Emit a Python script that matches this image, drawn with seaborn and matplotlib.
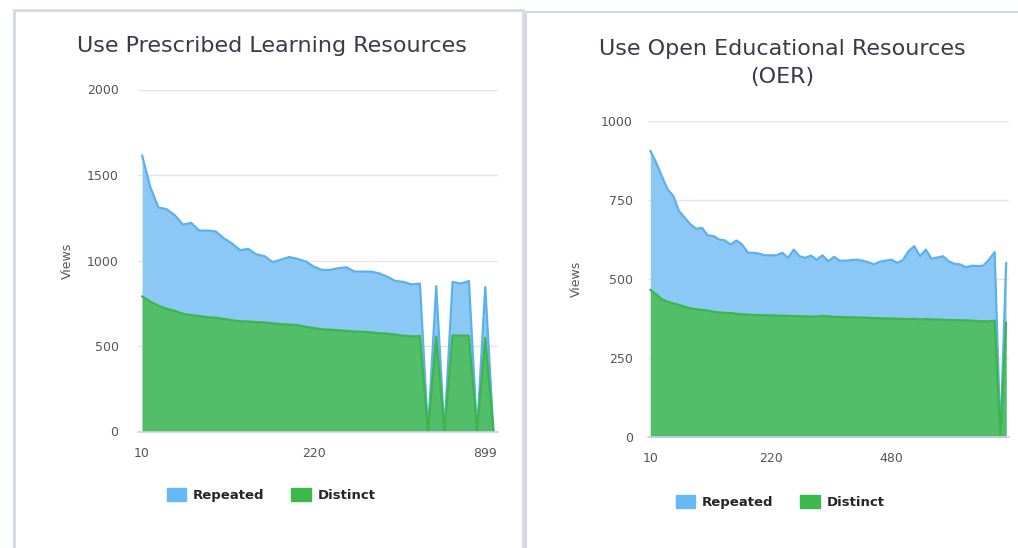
import numpy as np
import matplotlib
matplotlib.use("Agg")
import matplotlib.pyplot as plt
from matplotlib.patches import Patch, Rectangle
import seaborn as sns

# left chart: Use Prescribed Learning Resources
pres_repeated = [1615, 1430, 1310, 1300, 1265, 1210, 1220, 1175, 1175, 1170,
                 1130, 1100, 1060, 1068, 1035, 1025, 990, 1005, 1020, 1010,
                 995, 965, 945, 945, 955, 960, 935, 935, 935, 925,
                 905, 880, 875, 860, 865, 0, 850, 0, 875, 865,
                 880, 0, 845, 0]
pres_distinct = [790, 760, 735, 718, 705, 688, 680, 675, 668, 665,
                 658, 650, 645, 643, 640, 638, 632, 628, 625, 622,
                 612, 605, 598, 595, 592, 588, 585, 583, 580, 575,
                 572, 566, 560, 556, 558, 0, 555, 0, 562, 560,
                 560, 0, 548, 0]
pres_ticks = [0, 21, 42]
pres_ticklabels = ["10", "220", "899"]

# right chart: Use Open Educational Resources (OER)
oer_repeated = [906, 869, 826, 784, 763, 715, 694, 673, 659, 662,
                638, 636, 625, 622, 609, 622, 609, 583, 583, 580,
                575, 575, 575, 583, 567, 593, 572, 567, 574, 561,
                575, 556, 570, 558, 558, 560, 561, 558, 553, 546,
                555, 558, 561, 551, 560, 588, 604, 572, 593, 564,
                568, 572, 556, 548, 546, 537, 542, 541, 542, 561,
                585, 0, 551]
oer_distinct = [466, 452, 436, 428, 423, 418, 412, 407, 404, 402,
                400, 396, 394, 393, 392, 390, 388, 387, 386, 386,
                385, 385, 384, 384, 383, 383, 382, 382, 381, 381,
                383, 382, 380, 380, 379, 379, 378, 378, 377, 376,
                376, 375, 375, 374, 374, 373, 374, 372, 373, 372,
                372, 371, 370, 370, 369, 369, 368, 367, 366, 366,
                368, 0, 362]
oer_ticks = [0, 21, 42]
oer_ticklabels = ["10", "220", "480"]

series_names = ["Repeated", "Distinct"]

BLUE_FILL, BLUE_LINE, BLUE_KEY = "#8cc8f5", "#5cb0ec", "#66b9f4"
GREEN_FILL, GREEN_LINE, GREEN_KEY = "#52be6a", "#3cb54a", "#3db84a"
GRID = "#e4e4e4"
AXIS = "#c8d4e0"
TXT = "#555555"

sns.set_style("white")
W, H = 1018, 548
fig = plt.figure(figsize=(W / 100, H / 100), dpi=100)


def px_axes(x0, y0, x1, y1):
    return fig.add_axes([x0 / W, 1 - y1 / H, (x1 - x0) / W, (y1 - y0) / H])


def draw_panel(ax, repeated, distinct, ymax, yticks, ticks, ticklabels, xlim, ypad, lpad):
    idx = np.arange(len(repeated))
    ax.fill_between(idx, repeated, color=BLUE_FILL, lw=0, zorder=2)
    sns.lineplot(x=idx, y=repeated, ax=ax, color=BLUE_LINE, linewidth=1.6, zorder=3)
    ax.fill_between(idx, distinct, color=GREEN_FILL, lw=0, zorder=4)
    sns.lineplot(x=idx, y=distinct, ax=ax, color=GREEN_LINE, linewidth=1.6, zorder=5)
    ax.set_xlim(*xlim)
    ax.set_ylim(0, ymax)
    ax.set_yticks(yticks)
    ax.set_yticklabels([str(v) for v in yticks], fontsize=9, color=TXT)
    ax.set_xticks(ticks)
    ax.set_xticklabels(ticklabels, fontsize=9, color=TXT)
    ax.grid(axis="y", color=GRID, linewidth=1, zorder=0)
    ax.set_axisbelow(True)
    for s in ["top", "right", "left"]:
        ax.spines[s].set_visible(False)
    ax.spines["bottom"].set_color(AXIS)
    ax.spines["bottom"].set_linewidth(1.2)
    ax.spines["bottom"].set_zorder(6)
    ax.tick_params(axis="y", length=0, pad=ypad)
    ax.tick_params(axis="x", length=5, width=1, color=AXIS, pad=6)
    ax.set_ylabel("Views", fontsize=9, color=TXT, labelpad=lpad)
    ax.set_xlabel("")


ax1 = px_axes(138, 89.5, 497.5, 431.5)
draw_panel(ax1, pres_repeated, pres_distinct, 2000, [0, 500, 1000, 1500, 2000],
           pres_ticks, pres_ticklabels, (-0.5, 43.5), 14, 9)

ax2 = px_axes(648, 121, 1009, 437)
draw_panel(ax2, oer_repeated, oer_distinct, 1000, [0, 250, 500, 750, 1000],
           oer_ticks, oer_ticklabels, (-0.4, 62.5), 11, 13)

# titles
fig.text(272 / W, 1 - 46 / H, "Use Prescribed Learning Resources",
         ha="center", va="center", fontsize=16, color="#3a3a4a")
fig.text(782 / W, 1 - 49 / H, "Use Open Educational Resources",
         ha="center", va="center", fontsize=16, color="#3a3a4a")
fig.text(782 / W, 1 - 77 / H, "(OER)",
         ha="center", va="center", fontsize=16, color="#3a3a4a")

# legends
handles = [Patch(facecolor=BLUE_KEY, edgecolor=BLUE_KEY),
           Patch(facecolor=GREEN_KEY, edgecolor=GREEN_KEY)]
for cx, cy in [(271, 495), (780, 502)]:
    fig.legend(handles, series_names, loc="center", bbox_to_anchor=(cx / W, 1 - cy / H),
               ncol=2, frameon=False, handlelength=1.5, handleheight=1.1,
               columnspacing=2.0, handletextpad=0.5,
               prop={"weight": "bold", "size": 9.5})

# panel frames
fig.add_artist(Rectangle((14 / W, -0.05), (523 - 14) / W, 1.05 - 10 / H,
                         transform=fig.transFigure, fill=False,
                         edgecolor="#d3dae3", linewidth=2, clip_on=False))
fig.add_artist(Rectangle((526 / W, -0.05), 0.6, 1.05 - 12 / H,
                         transform=fig.transFigure, fill=False,
                         edgecolor="#d3dae3", linewidth=1.5, clip_on=False))

fig.savefig("out.png", dpi=100, facecolor="white")
